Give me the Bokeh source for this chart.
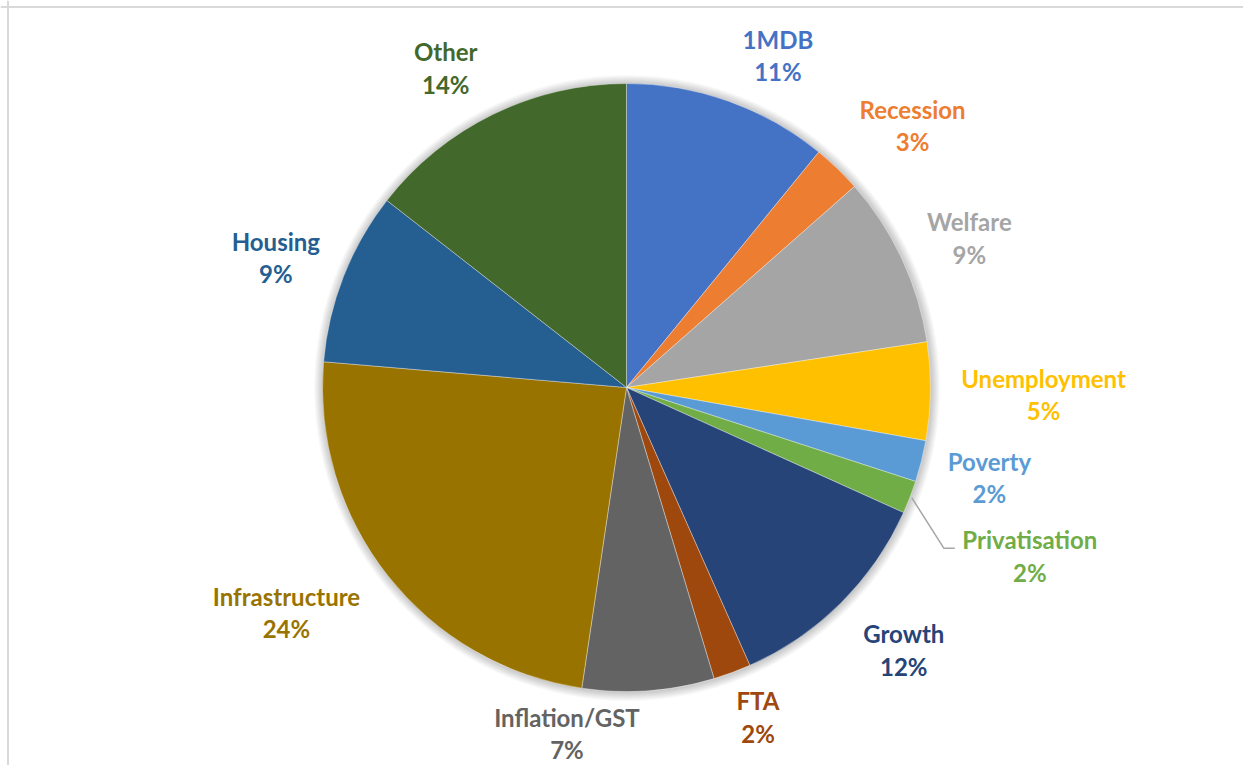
import math
import numpy as np
from bokeh.plotting import figure
from bokeh.models import ColumnDataSource, Range1d, Span
from bokeh.core.properties import value
from bokeh.embed import file_html
from bokeh.resources import INLINE

# Share of coverage by topic (percent), clockwise from 12 o'clock
topics = ["1MDB", "Recession", "Welfare", "Unemployment", "Poverty", "Privatisation",
          "Growth", "FTA", "Inflation/GST", "Infrastructure", "Housing", "Other"]
shares = [10.9, 2.6, 9.1, 5.2, 2.2, 1.75, 11.6, 2.0, 7.0, 24.0, 9.2, 14.45]
colors = ["#4472C4", "#ED7D31", "#A5A5A5", "#FFC000", "#5B9BD5", "#70AD47",
          "#264478", "#9E480E", "#636363", "#997300", "#255E91", "#43682B"]

# Label placement: distance from centre (in radii) and angular nudge (degrees)
label_dist = [1.20, 1.276, 1.23, 1.372, 1.23, 1.438, 1.257, 1.168, 1.155, 1.342, 1.23, 1.207]
label_nudge = [4.9, 3.6, 1.5, 0.3, -0.1, 1.55, -1.7, -1.4, 13.9, 4.8, -1.1, -3.5]

W, H = 1243, 765
cx, cy, R = 626.0, H - 387.0, 304.0

vals = np.array(shares, dtype=float)
frac = vals / vals.sum()
cum_end = np.cumsum(frac)
cum_start = cum_end - frac
start_ang = np.pi / 2 - cum_start * 2 * np.pi
end_ang = np.pi / 2 - cum_end * 2 * np.pi
mid_theta = (cum_start + cum_end) / 2 * 2 * np.pi  # clockwise from top

p = figure(width=W, height=H, x_range=Range1d(0, W), y_range=Range1d(0, H),
           output_backend="svg", toolbar_location=None, min_border=0)
p.axis.visible = False
p.grid.visible = False
p.outline_line_color = None
p.background_fill_color = "white"

# chart area frame
p.add_layout(Span(location=7.5, dimension="height", line_color="#D9D9D9", line_width=2))
p.add_layout(Span(location=H - 6.5, dimension="width", line_color="#D9D9D9", line_width=2))

# soft outer shadow
for i in range(1, 10):
    p.circle(x=[cx + 0.5], y=[cy - 0.5], radius=R + i, fill_color="black",
             fill_alpha=0.022, line_color=None)

src = ColumnDataSource(dict(start=start_ang, end=end_ang, color=colors, topic=topics))
p.wedge(x=cx, y=cy, radius=R, start_angle="start", end_angle="end", direction="clock",
        fill_color="color", line_color="white", line_width=0.6, line_alpha=0.6, source=src)

# data labels
lx, ly = [], []
for th, d, nd in zip(mid_theta, label_dist, label_nudge):
    a = th + math.radians(nd)
    lx.append(cx + d * R * math.sin(a))
    ly.append(cy + d * R * math.cos(a))
pct = [f"{round(f * 100)}%" for f in frac]
lab = ColumnDataSource(dict(x=lx, y_top=[y + 16.5 for y in ly], y_bot=[y - 16 for y in ly],
                            name=topics, pct=pct, color=colors))
for col, ycol in (("name", "y_top"), ("pct", "y_bot")):
    p.text(x="x", y=ycol, text=col, source=lab, text_color="color",
           text_font=value("Lato"), text_font_style="bold", text_font_size="24px",
           text_align="center", text_baseline="middle")

# leader line for the thin Privatisation slice
k = topics.index("Privatisation")
a0 = mid_theta[k]
x0, y0 = cx + (R + 2) * math.sin(a0), cy + (R + 2) * math.cos(a0)
x2 = lx[k] - 75
y1 = ly[k] + 8
p.line(x=[x0, x2 - 11, x2], y=[y0, y1, y1], line_color="#A6A6A6", line_width=1.5)

open("out.html", "w").write(file_html(p, INLINE))
